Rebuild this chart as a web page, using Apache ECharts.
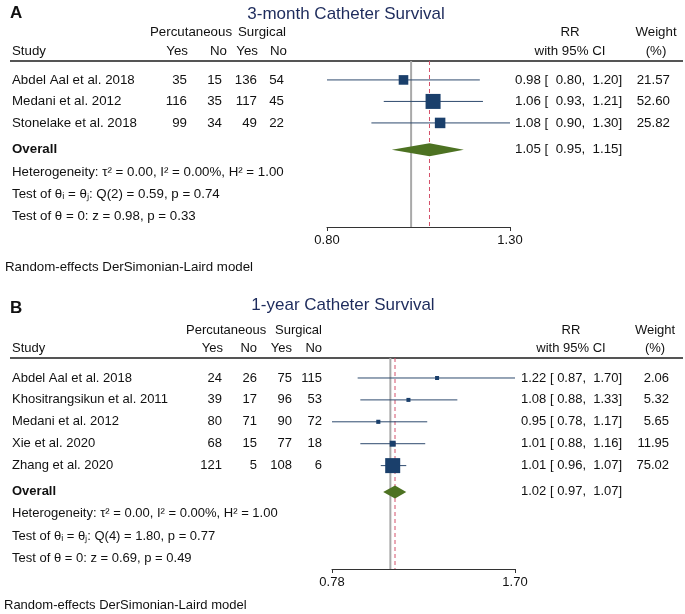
<!DOCTYPE html>
<html><head><meta charset="utf-8">
<script src="https://cdn.jsdelivr.net/npm/echarts@6/dist/echarts.min.js"></script>
<style>html,body{margin:0;padding:0;background:#fff}#c{width:685px;height:614px}</style>
</head><body><div id="c"></div>
<script>
// ---------- Panel A data ----------
const titleA = '3-month Catheter Survival';
const studiesA = ['Abdel Aal et al. 2018', 'Medani et al. 2012', 'Stonelake et al. 2018'];
const percYesA = [35, 116, 99];
const percNoA = [15, 35, 34];
const surgYesA = [136, 117, 49];
const surgNoA = [54, 45, 22];
const rrA = [0.98, 1.06, 1.08];
const loA = [0.80, 0.93, 0.90];
const hiA = [1.20, 1.21, 1.30];
const weightA = [21.57, 52.60, 25.82];
const overallA = [1.05, 0.95, 1.15];
const hetA = ['Heterogeneity: \u03C4\u00B2 = 0.00, I\u00B2 = 0.00%, H\u00B2 = 1.00',
              'Test of \u03B8\u1D62 = \u03B8\u2C7C: Q(2) = 0.59, p = 0.74',
              'Test of \u03B8 = 0: z = 0.98, p = 0.33'];
const ticksA = [0.80, 1.30];

// ---------- Panel B data ----------
const titleB = '1-year Catheter Survival';
const studiesB = ['Abdel Aal et al. 2018', 'Khositrangsikun et al. 2011', 'Medani et al. 2012', 'Xie et al. 2020', 'Zhang et al. 2020'];
const percYesB = [24, 39, 80, 68, 121];
const percNoB = [26, 17, 71, 15, 5];
const surgYesB = [75, 96, 90, 77, 108];
const surgNoB = [115, 53, 72, 18, 6];
const rrB = [1.22, 1.08, 0.95, 1.01, 1.01];
const loB = [0.87, 0.88, 0.78, 0.88, 0.96];
const hiB = [1.70, 1.33, 1.17, 1.16, 1.07];
const weightB = [2.06, 5.32, 5.65, 11.95, 75.02];
const overallB = [1.02, 0.97, 1.07];
const hetB = ['Heterogeneity: \u03C4\u00B2 = 0.00, I\u00B2 = 0.00%, H\u00B2 = 1.00',
              'Test of \u03B8\u1D62 = \u03B8\u2C7C: Q(4) = 1.80, p = 0.77',
              'Test of \u03B8 = 0: z = 0.69, p = 0.49'];
const ticksB = [0.78, 1.70];

const modelNote = 'Random-effects DerSimonian-Laird model';

// ---------- layout (pixels / row units) ----------
const FONT = '"Liberation Sans", Arial, Helvetica, sans-serif';
const C = { navy: '#1a3f6b', ci: '#2e4a6e', green: '#4d7222', red: '#d4506a', grey: '#a9a9a9', title: '#1d2b5c', text: '#111111' };
const L = [
  { grid: { left: 327, top: 61, width: 183, height: 166 }, yMin: 0.12, yMax: 7.84, fs: 13.3,
    overallRow: 4.25, hetRows: [5.28, 6.3, 7.33],
    label: 'A', labelY: 13, titleX: 346, titleY: 14, h1Y: 32, h2Y: 51, ruleY: 61,
    percX: 150, surgX: 238, hdrCols: [188, 227, 258, 287], dataCols: [187, 222, 257, 284],
    rrX: 515, rrSep: '  ', wX: 670, rrHdrX: 570, wHdrX: 656, noteY: 267, noteX: 5 },
  { grid: { left: 332, top: 358, width: 183, height: 211 }, yMin: 0.087, yMax: 9.72, fs: 13,
    overallRow: 6.2, hetRows: [7.2, 8.25, 9.22],
    label: 'B', labelY: 308, titleX: 343, titleY: 305, h1Y: 330, h2Y: 348, ruleY: 358,
    percX: 186, surgX: 275, hdrCols: [223, 257, 292, 322], dataCols: [222, 257, 292, 322],
    rrX: 521, rrSep: ' ', wX: 669, rrHdrX: 571, wHdrX: 655, noteY: 605, noteX: 4 }
];

const panels = [
  { title: titleA, studies: studiesA, cols: [percYesA, percNoA, surgYesA, surgNoA], rr: rrA, lo: loA, hi: hiA, w: weightA, overall: overallA, het: hetA, ticks: ticksA },
  { title: titleB, studies: studiesB, cols: [percYesB, percNoB, surgYesB, surgNoB], rr: rrB, lo: loB, hi: hiB, w: weightB, overall: overallB, het: hetB, ticks: ticksB }
];

const ln = Math.log;
const grids = [], xAxes = [], yAxes = [], series = [];

panels.forEach((p, k) => {
  const lay = L[k];
  grids.push(lay.grid);
  const tv = p.ticks.map(ln);
  xAxes.push({
    gridIndex: k, type: 'value', min: tv[0], max: tv[1],
    axisLine: { show: true, onZero: false, lineStyle: { color: '#333', width: 1 } },
    axisTick: { show: true, inside: false, length: 4, customValues: tv, lineStyle: { color: '#333' } },
    axisLabel: { customValues: tv, formatter: v => Math.exp(v).toFixed(2), color: C.text, fontSize: 13, fontFamily: FONT, margin: 7 },
    splitLine: { show: false }
  });
  yAxes.push({ gridIndex: k, type: 'value', inverse: true, min: lay.yMin, max: lay.yMax, show: false });

  // reference lines: null effect (RR = 1) and overall estimate
  series.push({
    type: 'custom', xAxisIndex: k, yAxisIndex: k, z: 1, silent: true,
    data: [[ln(1), 0], [ln(p.overall[0]), 1]],
    renderItem: (params, api) => {
      const x = api.value(0);
      const a = api.coord([x, lay.yMin]), b = api.coord([x, lay.yMax]);
      const dashed = api.value(1) === 1;
      return { type: 'line', shape: { x1: a[0], y1: a[1], x2: b[0], y2: b[1] },
        style: dashed ? { stroke: C.red, lineWidth: 1, lineDash: [4, 3] } : { stroke: C.grey, lineWidth: 2 } };
    }
  });

  // study CIs and weight boxes
  const wMax = Math.max(...p.w);
  series.push({
    type: 'custom', xAxisIndex: k, yAxisIndex: k, z: 3, silent: true,
    data: p.rr.map((r, i) => [ln(r), i + 1, ln(p.lo[i]), ln(p.hi[i]), Math.max(4, 15 * Math.sqrt(p.w[i] / wMax))]),
    renderItem: (params, api) => {
      const y = api.value(1);
      const a = api.coord([api.value(2), y]), b = api.coord([api.value(3), y]), c = api.coord([api.value(0), y]);
      const s = api.value(4);
      return { type: 'group', children: [
        { type: 'line', shape: { x1: a[0], y1: a[1], x2: b[0], y2: b[1] }, style: { stroke: C.ci, lineWidth: 1 } },
        { type: 'rect', shape: { x: c[0] - s / 2, y: c[1] - s / 2, width: s, height: s }, style: { fill: C.navy } }
      ] };
    }
  });

  // overall diamond
  series.push({
    type: 'custom', xAxisIndex: k, yAxisIndex: k, z: 3, silent: true,
    data: [[ln(p.overall[0]), lay.overallRow, ln(p.overall[1]), ln(p.overall[2])]],
    renderItem: (params, api) => {
      const y = api.value(1);
      const a = api.coord([api.value(2), y]), b = api.coord([api.value(3), y]), c = api.coord([api.value(0), y]);
      const h = 6.5;
      return { type: 'polygon', shape: { points: [[a[0], a[1]], [c[0], c[1] - h], [b[0], b[1]], [c[0], c[1] + h]] }, style: { fill: C.green } };
    }
  });
});

const chart = echarts.init(document.getElementById('c'), null, { renderer: 'canvas' });
chart.setOption({ animation: false, backgroundColor: '#fff', grid: grids, xAxis: xAxes, yAxis: yAxes, series: series });

// ---------- table text ----------
const g = [];
function T(text, x, y, o) {
  o = o || {};
  const align = o.align || 'left';
  g.push({ type: 'text', x: x, y: y, silent: true, z: 10,
    style: { text: text, fill: o.fill || C.text, font: (o.weight || 'normal') + ' ' + (o.size || 13) + 'px ' + FONT,
      align: align, textAlign: align, verticalAlign: 'middle', textVerticalAlign: 'middle' } });
}
panels.forEach((p, k) => {
  const lay = L[k];
  const fs = lay.fs;
  const rowY = r => chart.convertToPixel({ yAxisIndex: k }, r);
  T(lay.label, 10, lay.labelY, { weight: 'bold', size: 17 });
  T(p.title, lay.titleX, lay.titleY, { align: 'center', size: 17, fill: C.title });
  T('Percutaneous', lay.percX, lay.h1Y, { size: fs });
  T('Surgical', lay.surgX, lay.h1Y, { size: fs });
  T('Study', 12, lay.h2Y, { size: fs });
  ['Yes', 'No', 'Yes', 'No'].forEach((h, j) => T(h, lay.hdrCols[j], lay.h2Y, { align: 'right', size: fs }));
  T('RR', lay.rrHdrX, lay.h1Y, { align: 'center', size: fs });
  T('with 95% CI', lay.rrHdrX, lay.h2Y, { align: 'center', size: fs });
  T('Weight', lay.wHdrX, lay.h1Y, { align: 'center', size: fs });
  T('(%)', lay.wHdrX, lay.h2Y, { align: 'center', size: fs });
  g.push({ type: 'line', silent: true, shape: { x1: 10, y1: lay.ruleY, x2: 683, y2: lay.ruleY }, style: { stroke: '#555', lineWidth: 2 } });
  p.studies.forEach((s, i) => {
    const y = rowY(i + 1);
    T(s, 12, y, { size: fs });
    p.cols.forEach((col, j) => T(String(col[i]), lay.dataCols[j], y, { align: 'right', size: fs }));
    T(p.rr[i].toFixed(2) + ' [' + lay.rrSep + p.lo[i].toFixed(2) + ',  ' + p.hi[i].toFixed(2) + ']', lay.rrX, y, { size: fs });
    T(p.w[i].toFixed(2), lay.wX, y, { align: 'right', size: fs });
  });
  const oy = rowY(lay.overallRow);
  T('Overall', 12, oy, { weight: 'bold', size: fs });
  T(p.overall[0].toFixed(2) + ' [' + lay.rrSep + p.overall[1].toFixed(2) + ',  ' + p.overall[2].toFixed(2) + ']', lay.rrX, oy, { size: fs });
  p.het.forEach((h, j) => T(h, 12, rowY(lay.hetRows[j]), { size: fs }));
  T(modelNote, lay.noteX, lay.noteY, { size: fs });
});
chart.setOption({ graphic: { elements: g } });
</script>
</body></html>
